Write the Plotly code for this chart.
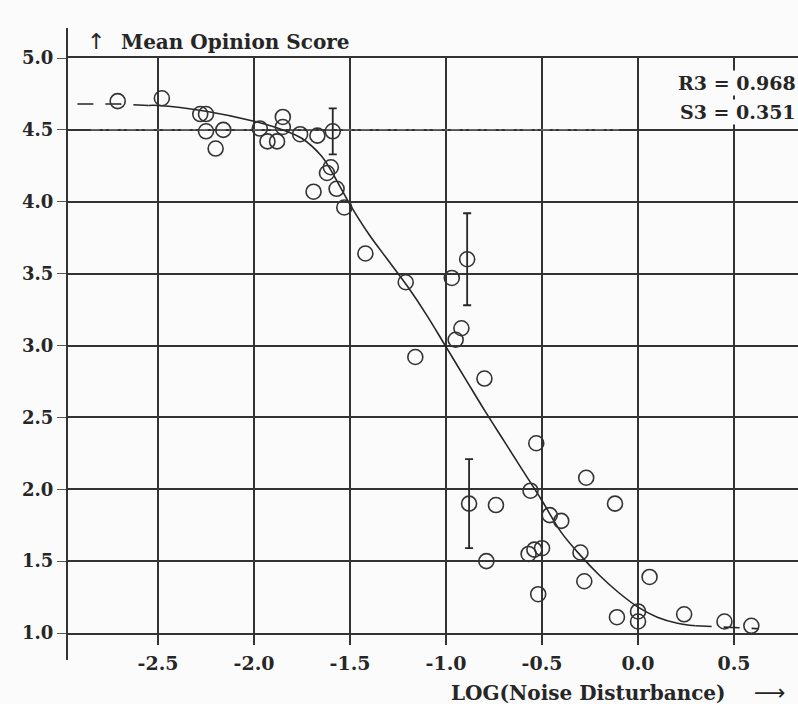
import plotly.graph_objects as go

# ---------------- data ----------------
POINT_X = [-2.71, -2.48, -2.28, -2.25, -2.25, -2.16, -2.20, -1.97, -1.93, -1.88,
           -1.85, -1.85, -1.76, -1.67, -1.60, -1.62, -1.69, -1.57, -1.53, -1.42,
           -1.21, -0.97, -0.92, -0.95, -1.16, -0.80, -0.53, -0.27, -0.12, -0.74,
           -0.56, -0.46, -0.40, -0.57, -0.54, -0.50, -0.79, -0.30, -0.28, -0.52,
           0.06, -0.11, 0.00, 0.00, 0.24, 0.45, 0.59]
POINT_Y = [4.70, 4.72, 4.61, 4.61, 4.49, 4.50, 4.37, 4.51, 4.42, 4.42,
           4.59, 4.52, 4.47, 4.46, 4.24, 4.20, 4.07, 4.09, 3.96, 3.64,
           3.44, 3.47, 3.12, 3.04, 2.92, 2.77, 2.32, 2.08, 1.90, 1.89,
           1.99, 1.82, 1.78, 1.55, 1.58, 1.59, 1.50, 1.56, 1.36, 1.27,
           1.39, 1.11, 1.15, 1.08, 1.13, 1.08, 1.05]

ERR_X = [-1.59, -0.89, -0.88]
ERR_Y = [4.49, 3.60, 1.90]
ERR_SIZE = [0.16, 0.32, 0.31]

CURVE_X = [-2.92, -2.7, -2.55, -2.5, -2.25, -2.0, -1.85, -1.75, -1.65, -1.6, -1.55,
           -1.5, -1.4, -1.3, -1.2, -1.1, -1.0, -0.9, -0.8, -0.7, -0.6, -0.5,
           -0.4, -0.3, -0.2, -0.1, 0.0, 0.1, 0.2, 0.3, 0.45, 0.63]
CURVE_Y = [4.68, 4.68, 4.67, 4.67, 4.63, 4.56, 4.50, 4.44, 4.32, 4.22, 4.10,
           3.98, 3.77, 3.59, 3.41, 3.21, 2.99, 2.77, 2.55, 2.34, 2.13, 1.92,
           1.70, 1.54, 1.40, 1.28, 1.18, 1.11, 1.07, 1.05, 1.04, 1.03]
SOLID_FROM = -2.55
SOLID_TO = 0.3

REF_LINE_X = [-2.85, -0.1]
REF_LINE_Y = [4.5, 4.5]

X_TICKS = [-2.5, -2.0, -1.5, -1.0, -0.5, 0.0, 0.5]
X_TICK_LABELS = ["-2.5", "-2.0", "-1.5", "-1.0", "-0.5", "0.0", "0.5"]
Y_TICKS = [1.0, 1.5, 2.0, 2.5, 3.0, 3.5, 4.0, 4.5, 5.0]
Y_TICK_LABELS = ["1.0", "1.5", "2.0", "2.5", "3.0", "3.5", "4.0", "4.5", "5.0"]

Y_TITLE = "Mean Opinion Score"
X_TITLE = "LOG(Noise Disturbance)"
STATS = ["R3 = 0.968", "S3 = 0.351"]

# ---------------- figure ----------------
INK = "#262626"
BG = "#fbfbfb"
FONT = "DejaVu Serif"

fig = go.Figure()

# faint reference line at 4.5
fig.add_trace(go.Scatter(x=REF_LINE_X, y=REF_LINE_Y, mode="lines",
                         line=dict(color="#8a8a8a", width=1, dash="dashdot"),
                         hoverinfo="skip", showlegend=False))

solid_x = [x for x in CURVE_X if SOLID_FROM <= x <= SOLID_TO]
solid_y = [y for x, y in zip(CURVE_X, CURVE_Y) if SOLID_FROM <= x <= SOLID_TO]
left_x = [x for x in CURVE_X if x <= SOLID_FROM]
left_y = [y for x, y in zip(CURVE_X, CURVE_Y) if x <= SOLID_FROM]
right_x = [x for x in CURVE_X if x >= SOLID_TO]
right_y = [y for x, y in zip(CURVE_X, CURVE_Y) if x >= SOLID_TO]

fig.add_trace(go.Scatter(x=solid_x, y=solid_y, mode="lines", line_shape="spline",
                         line=dict(color=INK, width=1.6), showlegend=False,
                         cliponaxis=False))
for ex, ey in ((left_x, left_y), (right_x, right_y)):
    fig.add_trace(go.Scatter(x=ex, y=ey, mode="lines",
                             line=dict(color=INK, width=1.6, dash="16px,12px"),
                             showlegend=False, cliponaxis=False))

fig.add_trace(go.Scatter(x=POINT_X, y=POINT_Y, mode="markers",
                         marker=dict(symbol="circle-open", size=15,
                                     color="#333333", line=dict(width=1.6)),
                         showlegend=False, cliponaxis=False))

fig.add_trace(go.Scatter(x=ERR_X, y=ERR_Y, mode="markers",
                         marker=dict(symbol="circle-open", size=15,
                                     color="#333333", line=dict(width=1.6)),
                         error_y=dict(type="data", array=ERR_SIZE, visible=True,
                                      color=INK, thickness=1.8, width=4),
                         showlegend=False, cliponaxis=False))

xtickfont = dict(family=FONT, size=19, color=INK, weight="bold")
ytickfont = dict(family=FONT, size=18, color=INK, weight="bold")

fig.update_xaxes(range=[-2.974, 0.833], tickmode="array", tickvals=X_TICKS,
                 ticktext=X_TICK_LABELS, showgrid=True, gridcolor="#333333",
                 gridwidth=1.5, zeroline=False, showline=True, mirror=True,
                 linecolor="#333333", linewidth=2, ticks="outside", ticklen=10,
                 tickwidth=1.5, tickcolor="#333333", tickfont=xtickfont,
                 ticklabelstandoff=2)
fig.update_yaxes(range=[1.0, 5.0], tickmode="array", tickvals=Y_TICKS,
                 ticktext=Y_TICK_LABELS, showgrid=True, gridcolor="#333333",
                 gridwidth=2, zeroline=False, showline=False, ticks="outside",
                 ticklen=9, tickwidth=1, tickcolor="#555555", tickfont=ytickfont)

# vertical axis line extending past the grid
fig.add_shape(type="line", xref="paper", yref="paper", x0=0, x1=0,
              y0=-0.047, y1=1.052, line=dict(color="#333333", width=2))

annos = [
    dict(text="↑", x=0.025, y=1.028, xanchor="left", yanchor="middle",
         font=dict(family="DejaVu Sans", size=22, color=INK)),
    dict(text=Y_TITLE, x=0.071, y=1.028, xanchor="left", yanchor="middle",
         font=dict(family=FONT, size=20, color=INK, weight="bold")),
    dict(text=X_TITLE, x=0.714, y=-0.104, xanchor="center", yanchor="middle",
         font=dict(family=FONT, size=20, color=INK, weight="bold")),
    dict(text="⟶", x=0.962, y=-0.104, xanchor="center", yanchor="middle",
         borderpad=0, font=dict(family="DejaVu Sans", size=22, color=INK)),
    dict(text=STATS[0], x=1.0, y=0.957, xanchor="right", yanchor="middle",
         bgcolor=BG, borderpad=1,
         font=dict(family=FONT, size=19, color=INK, weight="bold")),
    dict(text=STATS[1], x=1.0, y=0.906, xanchor="right", yanchor="middle",
         bgcolor=BG, borderpad=1,
         font=dict(family=FONT, size=19, color=INK, weight="bold")),
]
for a in annos:
    fig.add_annotation(xref="paper", yref="paper", showarrow=False, **a)

fig.update_layout(width=798, height=704,
                  margin=dict(l=67, r=0, t=58, b=71, pad=0),
                  paper_bgcolor=BG, plot_bgcolor=BG)

fig.write_html("out.html")
